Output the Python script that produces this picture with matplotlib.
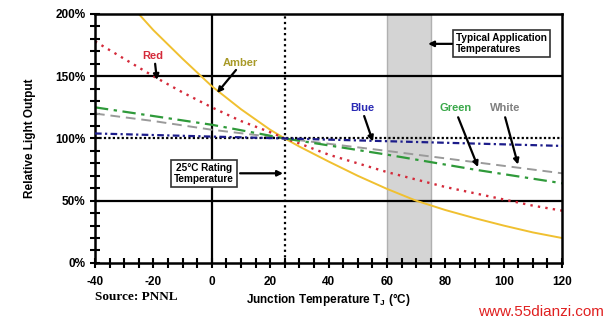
import matplotlib
matplotlib.use("Agg")
import matplotlib.pyplot as plt
from matplotlib.ticker import MultipleLocator, FuncFormatter

plt.rcParams["font.family"] = ["Liberation Sans", "DejaVu Sans"]
plt.rcParams["font.weight"] = "bold"
plt.rcParams["axes.labelweight"] = "bold"
plt.rcParams["axes.unicode_minus"] = False
plt.rcParams["mathtext.fontset"] = "custom"
plt.rcParams["mathtext.rm"] = "Liberation Sans:bold"
plt.rcParams["mathtext.default"] = "rm"

# relative light output (%) vs junction temperature (deg C), PNNL data
amber_t = [-30, -20, -10, 0, 10, 20, 25, 30, 40, 50, 60, 70, 80, 90, 100, 110, 120]
amber_v = [213, 187, 164, 142, 123.5, 107, 100, 93.5, 81.5, 70, 59.5, 50, 42.5, 36, 30, 24.5, 20]

red_t = [-40, -30, -20, -10, 0, 10, 20, 25, 30, 40, 50, 60, 70, 80, 90, 100, 110, 120]
red_v = [178, 164, 150, 137, 125, 114, 105, 100, 96, 87, 80, 73, 67, 61, 56, 51, 46, 42]

green_t = [-40, -20, 0, 25, 60, 90, 120]
green_v = [125, 118, 111, 100, 87, 75, 64]

white_t = [-40, -20, 0, 25, 60, 90, 120]
white_v = [120, 114, 107, 100, 90, 81, 72]

blue_t = [-40, 0, 25, 60, 120]
blue_v = [104, 101.5, 100, 97.8, 94]

rating_temp = 25
app_range = (60, 75)

fig = plt.figure(figsize=(6.07, 3.25), dpi=100)
ax = fig.add_axes([0.1565, 0.191, 0.7695, 0.766])

ax.axvspan(*app_range, facecolor="#d4d4d4", edgecolor="#b0b0b0", lw=1, zorder=0)
for y in (50, 150):
    ax.axhline(y, color="black", lw=1.6, zorder=1)
ax.axvline(0, color="black", lw=1.6, zorder=1)
ax.axvline(rating_temp, color="black", lw=1.6, ls=(0, (1, 1.5)), zorder=1)
ax.axhline(100, color="black", lw=1.6, ls=(0, (1, 1)), zorder=3)

ax.plot(amber_t, amber_v, color="#f0c030", lw=1.4, zorder=2)
ax.plot(red_t, red_v, color="#d42a3a", lw=1.7, ls=(0, (1, 2.2)), zorder=2)
ax.plot(white_t, white_v, color="#9a9a9a", lw=1.4, ls=(0, (5, 3)), zorder=2)
ax.plot(green_t, green_v, color="#2f9a3a", lw=1.6, ls=(0, (6, 2.5, 1.5, 2.5)), zorder=2)
ax.plot(blue_t, blue_v, color="#1c1c8a", lw=1.6, ls=(0, (3, 1.5, 1, 1.5)), zorder=3)

ax.set_xlim(-40, 120)
ax.set_ylim(0, 200)
ax.xaxis.set_major_locator(MultipleLocator(20))
ax.xaxis.set_minor_locator(MultipleLocator(5))
ax.yaxis.set_major_locator(MultipleLocator(50))
ax.yaxis.set_minor_locator(MultipleLocator(10))
ax.yaxis.set_major_formatter(FuncFormatter(lambda v, _: f"{v:.0f}%"))
ax.tick_params(which="both", direction="inout", length=7, width=1.5, labelsize=8.5)
ax.tick_params(axis="x", pad=6)
for s in ax.spines.values():
    s.set_linewidth(1.8)

ax.set_ylabel("Relative Light Output", fontsize=8.5, labelpad=14)
ax.set_xlabel("Junction Temperature T$_J$ (°C)", fontsize=8.5, labelpad=2)

arrow = dict(arrowstyle="-|>", color="black", lw=1.6, mutation_scale=8,
             shrinkA=0, shrinkB=0)
labels = [
    ("Red", "#d42a3a", (-20.1, 166), (-19.4, 160), (-18.8, 147)),
    ("Amber", "#a89a28", (9.7, 161), (8.3, 155), (1.8, 136.5)),
    ("Blue", "#2a2ab4", (51.5, 124.5), (52.2, 118), (55.2, 97.5)),
    ("Green", "#3aa84a", (83.7, 124.5), (84.4, 117), (91.2, 77)),
    ("White", "#808080", (100.5, 124.5), (100.5, 117), (104.9, 79)),
]
for name, col, tpos, tail, tip in labels:
    ax.text(*tpos, name, color=col, fontsize=8, ha="center", va="center", zorder=5)
    ax.annotate("", xy=tip, xytext=tail, arrowprops=arrow, zorder=5)

box = dict(boxstyle="square,pad=0.3", facecolor="white", edgecolor="#333333", lw=1.2)
ax.text(83.6, 176, "Typical Application\nTemperatures", fontsize=7.2, ha="left",
        va="center", linespacing=1.1, bbox=box, zorder=5)
ax.annotate("", xy=(74.1, 176), xytext=(82.3, 176), arrowprops=arrow, zorder=5)
ax.text(-2.7, 72, "25°C Rating\nTemperature", fontsize=7.2, ha="center",
        va="center", linespacing=1.1, bbox=box, zorder=5)
ax.annotate("", xy=(24.4, 72), xytext=(9.7, 72), arrowprops=arrow, zorder=5)

fig.text(0.157, 0.085, "Source: PNNL", family="Liberation Serif", fontsize=9.5,
         fontweight="bold", va="center")
fig.text(0.995, 0.04, "www.55dianzi.com", color="#e02020", fontsize=11,
         fontweight="normal", ha="right", va="center")

fig.savefig("out.png", dpi=100)
